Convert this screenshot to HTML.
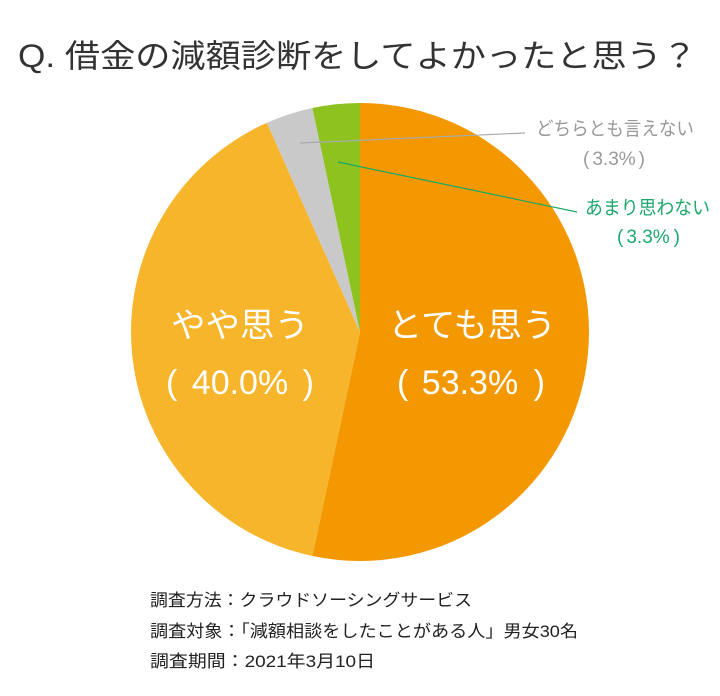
<!DOCTYPE html>
<html><head><meta charset="utf-8"><style>
body{margin:0;width:720px;height:691px;background:#fff;overflow:hidden;font-family:"Liberation Sans","Noto Sans CJK JP",sans-serif}
</style></head><body>
<svg width="720" height="691" viewBox="0 0 720 691" style="font-family:'Liberation Sans','Noto Sans CJK JP',sans-serif">
<text x="18" y="67" font-size="32" fill="#333" textLength="679" lengthAdjust="spacingAndGlyphs">Q. 借金の減額診断をしてよかったと思う？</text>
<path d="M360,332 L360,103 A229,229 0 1,1 312.4,556 Z" fill="#F39800"/>
<path d="M360,332 L312.4,556 A229,229 0 0,1 266.9,122.8 Z" fill="#F7B52C"/>
<path d="M360,332 L266.9,122.8 A229,229 0 0,1 312.4,108 Z" fill="#C9C9C9"/>
<path d="M360,332 L312.4,108 A229,229 0 0,1 360,103 Z" fill="#8DC21F"/>
<line x1="300" y1="143" x2="525" y2="133" stroke="#aaa" stroke-width="1.2"/>
<line x1="338" y1="162" x2="577" y2="212" stroke="#1BA86A" stroke-width="1.2"/>
<text x="536" y="135" font-size="19" fill="#999" textLength="158" lengthAdjust="spacingAndGlyphs">どちらとも言えない</text>
<g font-size="19" fill="#999"><text x="583" y="165">(</text><text x="614" y="165" text-anchor="middle">3.3%</text><text x="645" y="165" text-anchor="end">)</text></g>
<text x="585" y="214" font-size="19" fill="#1BA86A" textLength="125" lengthAdjust="spacingAndGlyphs">あまり思わない</text>
<g font-size="19" fill="#1BA86A"><text x="617" y="243">(</text><text x="648" y="243" text-anchor="middle">3.3%</text><text x="680" y="243" text-anchor="end">)</text></g>
<text x="388" y="337" font-size="34" fill="#fff" textLength="168" lengthAdjust="spacingAndGlyphs">とても思う</text>
<g font-size="34" fill="#fff"><text x="397" y="394">(</text><text x="470" y="394" text-anchor="middle">53.3%</text><text x="545" y="394" text-anchor="end">)</text></g>
<text x="171" y="337" font-size="34" fill="#fff" textLength="138" lengthAdjust="spacingAndGlyphs">やや思う</text>
<g font-size="34" fill="#fff"><text x="166" y="394">(</text><text x="240" y="394" text-anchor="middle">40.0%</text><text x="314" y="394" text-anchor="end">)</text></g>
<text x="150" y="606" font-size="17" fill="#222" textLength="322" lengthAdjust="spacingAndGlyphs">調査方法：クラウドソーシングサービス</text>
<text x="150" y="637" font-size="17" fill="#222" textLength="428" lengthAdjust="spacingAndGlyphs">調査対象：「減額相談をしたことがある人」男女30名</text>
<text x="150" y="667" font-size="17" fill="#222" textLength="225" lengthAdjust="spacingAndGlyphs">調査期間：2021年3月10日</text>
</svg>
</body></html>
